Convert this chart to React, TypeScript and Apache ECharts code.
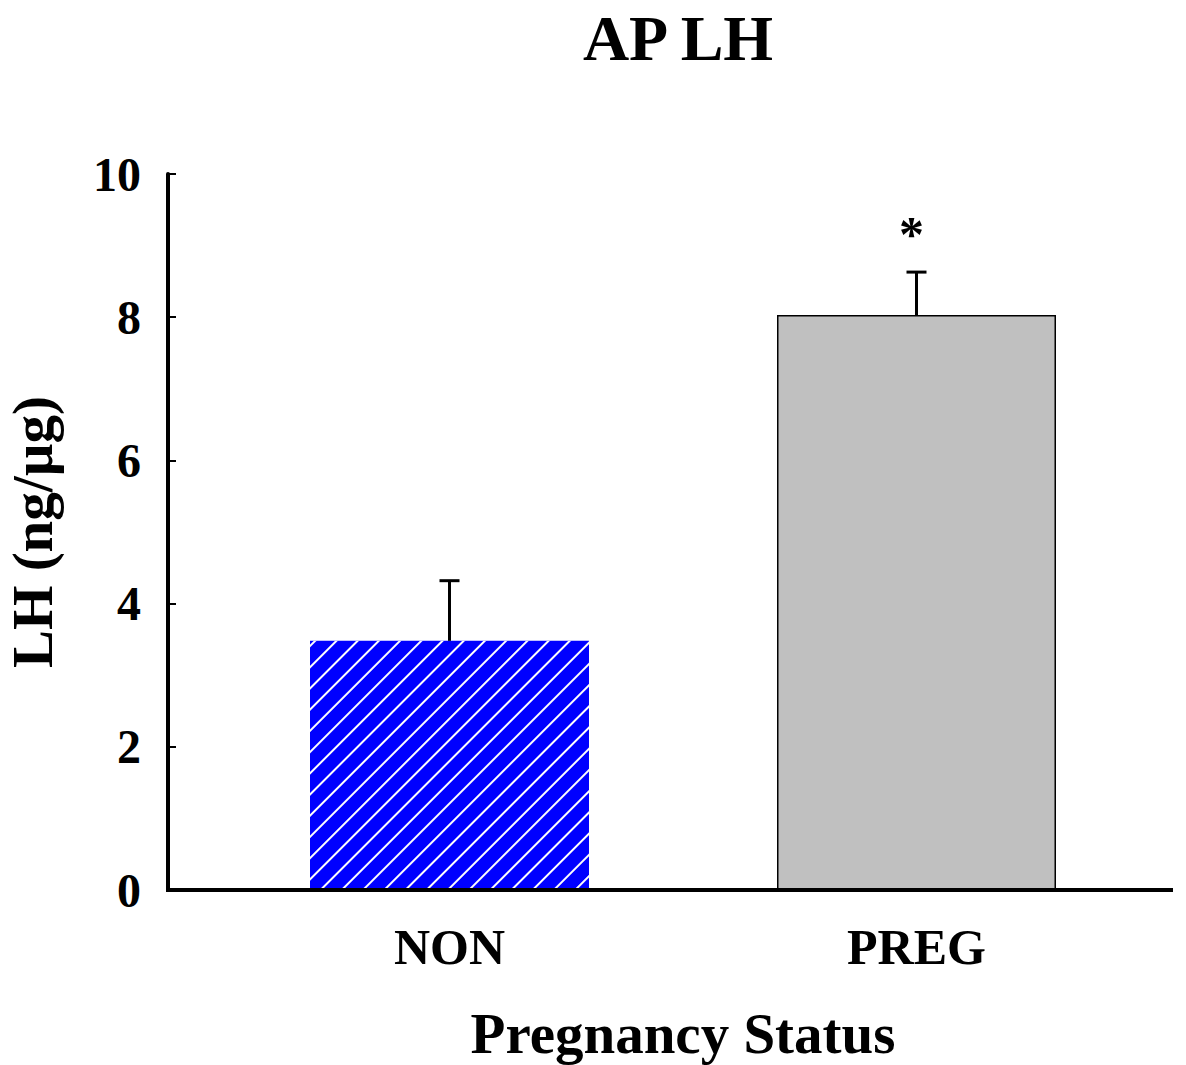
import React, { useEffect, useRef } from "react";
import * as echarts from "echarts";

const categories = ["NON", "PREG"];
const means = [3.48, 8.03];
const errorTops = [4.32, 8.63];
const significance = ["", "*"];
const barColors = ["#0000ff", "#c0c0c0"];
const yTicks = { min: 0, max: 10, interval: 2 };

const FONT = "'Liberation Serif', 'Times New Roman', serif";

export default function App() {
  const ref = useRef<HTMLDivElement>(null);
  useEffect(() => {
    if (!ref.current) return;
    const chart = echarts.init(ref.current, undefined, { renderer: "svg" });
    const barData = means.map((v, i) => ({
      value: v,
      itemStyle:
        i === 0
          ? {
              color: barColors[i],
              borderWidth: 0,
              decal: {
                symbol: "rect",
                symbolSize: 1,
                color: "#ffffff",
                dashArrayX: [1, 0],
                dashArrayY: [2, 12.6],
                rotation: -Math.PI / 4,
              },
            }
          : { color: barColors[i], borderColor: "#000", borderWidth: 1.5 },
    }));
    const errData = means.map((v, i) => [i, v, errorTops[i]]);
    chart.setOption({
      animation: false,
      backgroundColor: "#ffffff",
      title: {
        text: "AP LH",
        left: 673,
        textAlign: "center",
        top: 1,
        textStyle: { fontFamily: FONT, fontWeight: "bold", fontSize: 64, color: "#000" },
      },
      grid: { left: 216, right: 36, top: 174, bottom: 175, outerBoundsMode: "none", containLabel: false },
      xAxis: {
        type: "category",
        data: categories,
        axisLine: { show: false },
        axisTick: { show: false },
        axisLabel: { fontFamily: FONT, fontWeight: "bold", fontSize: 50, color: "#000", margin: 32 },
        name: "Pregnancy Status",
        nameLocation: "middle",
        nameGap: 115,
        nameTextStyle: { fontFamily: FONT, fontWeight: "bold", fontSize: 57, color: "#000" },
      },
      yAxis: {
        type: "value",
        min: yTicks.min,
        max: yTicks.max,
        interval: yTicks.interval,
        offset: 48,
        splitLine: { show: false },
        axisLine: { show: true, lineStyle: { color: "#000", width: 4 } },
        axisTick: { show: true, inside: true, length: 8, lineStyle: { color: "#000", width: 2 } },
        axisLabel: { fontFamily: FONT, fontWeight: "bold", fontSize: 48, color: "#000", margin: 27 },
        name: "LH (ng/µg)",
        nameLocation: "middle",
        nameGap: 107,
        nameTextStyle: { fontFamily: FONT, fontWeight: "bold", fontSize: 57, color: "#000" },
      },
      graphic: [
        {
          type: "line",
          shape: { x1: 166, y1: 890, x2: 1173, y2: 890 },
          style: { stroke: "#000", lineWidth: 4 },
          z: 100,
        },
      ],
      series: [
        {
          type: "bar",
          data: barData,
          barWidth: 279,
          z: 2,
        },
        {
          type: "custom",
          data: errData,
          encode: { x: 0, y: [1, 2] },
          z: 3,
          renderItem: (params: any, api: any) => {
            const idx = api.value(0);
            const m = api.value(1);
            const t = api.value(2);
            const p0 = api.coord([idx, m]);
            const p1 = api.coord([idx, t]);
            const children: any[] = [
              {
                type: "line",
                shape: { x1: p0[0], y1: p0[1], x2: p1[0], y2: p1[1] },
                style: { stroke: "#000", lineWidth: 3 },
              },
              {
                type: "line",
                shape: { x1: p1[0] - 10, y1: p1[1], x2: p1[0] + 10, y2: p1[1] },
                style: { stroke: "#000", lineWidth: 3 },
              },
            ];
            const s = significance[params.dataIndex];
            if (s) {
              children.push({
                type: "text",
                style: {
                  text: s,
                  x: p1[0] - 5,
                  y: p1[1] - 38,
                  align: "center",
                  verticalAlign: "middle",
                  fontFamily: FONT,
                  fontWeight: "bold",
                  fontSize: 50,
                  fill: "#000",
                },
              });
            }
            return { type: "group", children };
          },
        },
      ],
    });
    return () => chart.dispose();
  }, []);
  return (
    <div
      ref={ref}
      style={{ position: "fixed", left: 0, top: 0, width: 1186, height: 1065 }}
    />
  );
}
